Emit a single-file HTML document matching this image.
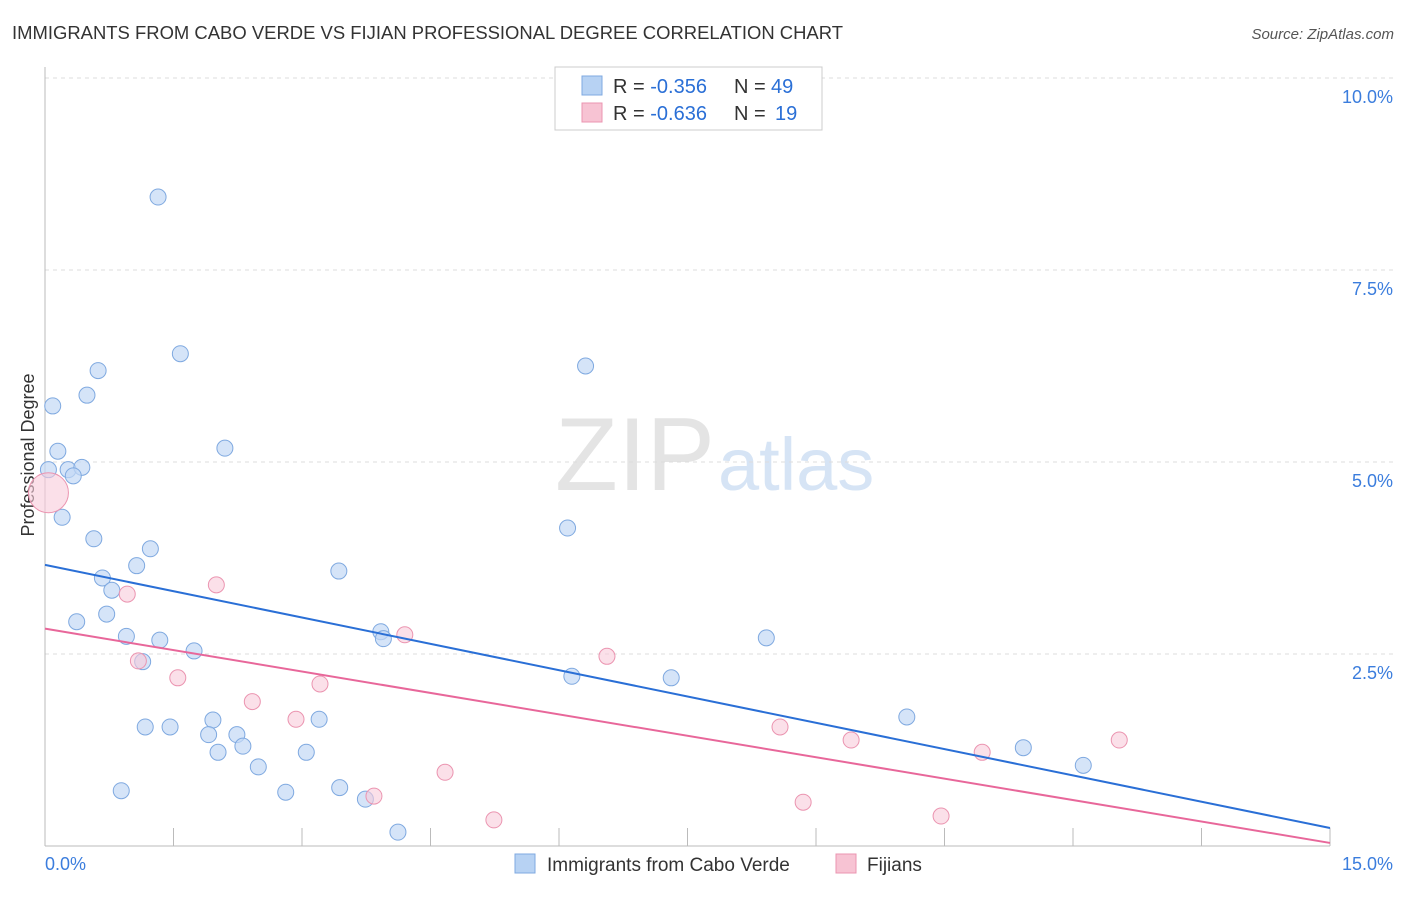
<!DOCTYPE html>
<html><head><meta charset="utf-8"><style>
body{margin:0;background:#fff;font-family:"Liberation Sans",sans-serif;}
svg text{font-family:"Liberation Sans",sans-serif;}
</style></head><body>
<svg id="chart" width="1406" height="892" xmlns="http://www.w3.org/2000/svg">
<text x="12" y="39" font-size="18.5" fill="#333" textLength="831" lengthAdjust="spacingAndGlyphs">IMMIGRANTS FROM CABO VERDE VS FIJIAN PROFESSIONAL DEGREE CORRELATION CHART</text>
<text x="1394" y="39" font-size="15" fill="#555" text-anchor="end" font-style="italic">Source: ZipAtlas.com</text>
<text x="715" y="490" font-size="104" fill="#e4e4e4" text-anchor="end" font-family="Liberation Serif" textLength="160" lengthAdjust="spacingAndGlyphs">ZIP</text>
<text x="718" y="490" font-size="74" fill="#d6e4f5">atlas</text>
<text transform="translate(34,455) rotate(-90)" font-size="18" fill="#333" text-anchor="middle">Professional Degree</text>
<g id="grid"></g><g id="marks"></g>
<g>
<rect x="555" y="67" width="267" height="63" fill="#fff" stroke="#ccc"/>
<rect x="582" y="76" width="20" height="19" fill="#b7d2f3" stroke="#7fa9e0"/>
<rect x="582" y="103" width="20" height="19" fill="#f7c3d3" stroke="#eb94b0"/>
<text x="613" y="93" font-size="20" fill="#333">R = <tspan fill="#2a6fd6">-0.356</tspan></text>
<text x="734" y="93" font-size="20" fill="#333">N = <tspan x="771" fill="#2a6fd6">49</tspan></text>
<text x="613" y="120" font-size="20" fill="#333">R = <tspan fill="#2a6fd6">-0.636</tspan></text>
<text x="734" y="120" font-size="20" fill="#333">N = <tspan x="775" fill="#2a6fd6">19</tspan></text>
</g>
<g>
<rect x="515" y="854" width="20" height="19" fill="#b7d2f3" stroke="#7fa9e0"/>
<text x="547" y="871" font-size="19" fill="#333">Immigrants from Cabo Verde</text>
<rect x="836" y="854" width="20" height="19" fill="#f7c3d3" stroke="#eb94b0"/>
<text x="867" y="871" font-size="19" fill="#333">Fijians</text>
</g>
</svg>
<script>
const yTicks=[2.5,5.0,7.5,10.0];
const yTickLabels=["2.5%","5.0%","7.5%","10.0%"];
const xTickCount=10;
const blueX=[1.32,1.58,0.62,6.31,0.09,0.49,0.15,2.10,0.04,0.27,0.43,0.33,0.20,6.10,0.57,1.23,1.07,3.43,0.67,0.78,0.72,0.37,0.95,1.34,3.92,3.95,8.42,1.74,1.14,6.15,7.31,10.06,3.20,1.96,1.17,1.46,1.91,2.24,2.31,2.02,3.05,11.42,2.49,12.12,0.89,2.81,3.44,3.74,4.12];
const blueY=[8.45,6.41,6.19,6.25,5.73,5.87,5.14,5.18,4.90,4.90,4.93,4.82,4.28,4.14,4.00,3.87,3.65,3.58,3.49,3.33,3.02,2.92,2.73,2.68,2.79,2.70,2.71,2.54,2.40,2.21,2.19,1.68,1.65,1.64,1.55,1.55,1.45,1.45,1.30,1.22,1.22,1.28,1.03,1.05,0.72,0.70,0.76,0.61,0.18];
const pinkX=[0.04,2.00,0.96,4.20,1.09,6.56,1.55,3.21,2.42,2.93,8.58,9.41,12.54,10.94,4.67,3.84,8.85,5.24,10.46];
const pinkY=[4.60,3.40,3.28,2.75,2.41,2.47,2.19,2.11,1.88,1.65,1.55,1.38,1.38,1.22,0.96,0.65,0.57,0.34,0.39];
const blueTrend=[3.66,0.234];
const pinkTrend=[2.83,0.04];
const xMax=15;
const sx=v=>45+v*(1330-45)/xMax;
const sy=v=>846-v*76.8;
const NS="http://www.w3.org/2000/svg";
const grid=document.getElementById('grid'),marks=document.getElementById('marks');
function mk(tag,attrs,parent){const e=document.createElementNS(NS,tag);for(const k in attrs)e.setAttribute(k,attrs[k]);parent.appendChild(e);return e;}
yTicks.forEach((t,i)=>{
 const l=mk('line',{x1:45,x2:1394,y1:sy(t),y2:sy(t),stroke:'#ddd','stroke-dasharray':'4,4'},grid);
 
 
 const tx=mk('text',{x:1393,y:sy(t)+25,'font-size':18,fill:'#3b7ddd','text-anchor':'end'},grid);
 tx.textContent=yTickLabels[i];
 
 
});
const ax=mk('line',{x1:45,x2:1330,y1:846,y2:846,stroke:'#bbb'},grid);


const ay=mk('line',{x1:45,x2:45,y1:67,y2:846,stroke:'#bbb'},grid);


for(let i=1;i<=xTickCount;i++){const v=i*xMax/xTickCount;
 const t=mk('line',{x1:sx(v),x2:sx(v),y1:828,y2:846,stroke:'#bbb'},grid);
 
 }
const xl0=mk('text',{x:45,y:870,'font-size':18,fill:'#3b7ddd'},grid);xl0.textContent='0.0%';


const xl1=mk('text',{x:1393,y:870,'font-size':18,fill:'#3b7ddd','text-anchor':'end'},grid);xl1.textContent='15.0%';


blueX.forEach((x,i)=>{const c=mk('circle',{cx:sx(x),cy:sy(blueY[i]),r:8,fill:'#c3d9f5','fill-opacity':0.7,stroke:'#7fa9e0','stroke-width':1},marks);
 
 });
pinkX.forEach((x,i)=>{const c=mk('circle',{cx:sx(x),cy:sy(pinkY[i]),r:i===0?20:8,fill:'#f9ccda','fill-opacity':0.6,stroke:'#eb94b0','stroke-width':1},marks);
 
 });
const bl=mk('line',{x1:sx(0),y1:sy(blueTrend[0]),x2:sx(xMax),y2:sy(blueTrend[1]),stroke:'#2a6fd6','stroke-width':2},marks);


const pl=mk('line',{x1:sx(0),y1:sy(pinkTrend[0]),x2:sx(xMax),y2:sy(pinkTrend[1]),stroke:'#e8679a','stroke-width':2},marks);


</script>
</body></html>
